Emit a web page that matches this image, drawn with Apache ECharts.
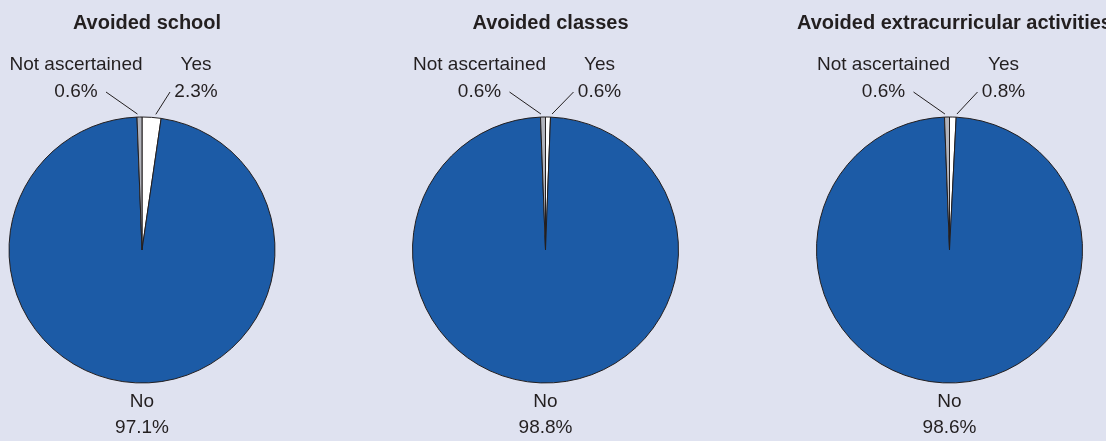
<!DOCTYPE html>
<html><head><meta charset="utf-8">
<script src="https://cdn.jsdelivr.net/npm/echarts@6/dist/echarts.min.js"></script>
<style>html,body{margin:0;padding:0;background:#dfe2f0;}#c{width:1106px;height:441px;}</style>
</head><body><div id="c"></div>
<script>
const titles = ['Avoided school', 'Avoided classes', 'Avoided extracurricular activities'];
const categories = ['Yes', 'No', 'Not ascertained'];
const yesValues = [2.3, 0.6, 0.8];
const noValues = [97.1, 98.8, 98.6];
const naValues = [0.6, 0.6, 0.6];

const FONT = "'Liberation Sans Narrow','Liberation Sans',Arial,sans-serif";
const centers = [[142, 250], [545.5, 250], [949.5, 250]];
const R = 133;
const colors = ['#ffffff', '#1c5ba6', '#b2b4bc'];

const chart = echarts.init(document.getElementById('c'), null, {renderer: 'canvas'});

function layoutFor(si) {
  return function (p) {
    const cx = centers[si][0], cy = centers[si][1];
    if (p.dataIndex === 1) {
      return {x: cx, y: cy + R + 6, align: 'center', verticalAlign: 'top'};
    }
    const vals = [yesValues[si], noValues[si], naValues[si]];
    const total = vals[0] + vals[1] + vals[2];
    let start = 0;
    for (let i = 0; i < p.dataIndex; i++) start += vals[i];
    const mid = (start + vals[p.dataIndex] / 2) / total * 2 * Math.PI;
    const sx = cx + (R + 3) * Math.sin(mid);
    const sy = cy - (R + 3) * Math.cos(mid);
    if (p.dataIndex === 0) {
      return {x: cx + 54, y: cy - 199, align: 'center', verticalAlign: 'top',
        labelLinePoints: [[cx + 28, cy - 158], [sx + 4, sy], [sx + 4, sy]]};
    }
    return {x: cx - 66, y: cy - 199, align: 'center', verticalAlign: 'top',
      labelLinePoints: [[cx - 36, cy - 158], [sx - 2, sy], [sx - 2, sy]]};
  };
}

const series = titles.map(function (t, si) {
  const vals = [yesValues[si], noValues[si], naValues[si]];
  return {
    type: 'pie',
    center: centers[si],
    radius: [0, R],
    startAngle: 90,
    clockwise: true,
    avoidLabelOverlap: false,
    silent: true,
    animation: false,
    itemStyle: {borderColor: '#231f20', borderWidth: 1},
    label: {
      show: true,
      position: 'outside',
      formatter: '{b}\n{c}%',
      fontFamily: FONT,
      fontSize: 19,
      lineHeight: 27,
      color: '#231f20',
      align: 'center'
    },
    labelLine: {show: true, length: 10, length2: 0, lineStyle: {color: '#231f20', width: 1}},
    labelLayout: layoutFor(si),
    data: categories.map(function (c, i) {
      const d = {name: c, value: vals[i], itemStyle: {color: colors[i]}};
      if (i === 1) { d.labelLine = {show: false}; d.label = {lineHeight: 26}; }
      return d;
    })
  };
});

chart.setOption({
  backgroundColor: '#dfe2f0',
  animation: false,
  title: titles.map(function (t, si) {
    return {text: t, left: centers[si][0], top: 8, textAlign: 'center',
      textStyle: {fontFamily: FONT, fontWeight: 'bold', fontSize: 20, color: '#231f20'}};
  }),
  series: series
});
</script>
</body></html>
